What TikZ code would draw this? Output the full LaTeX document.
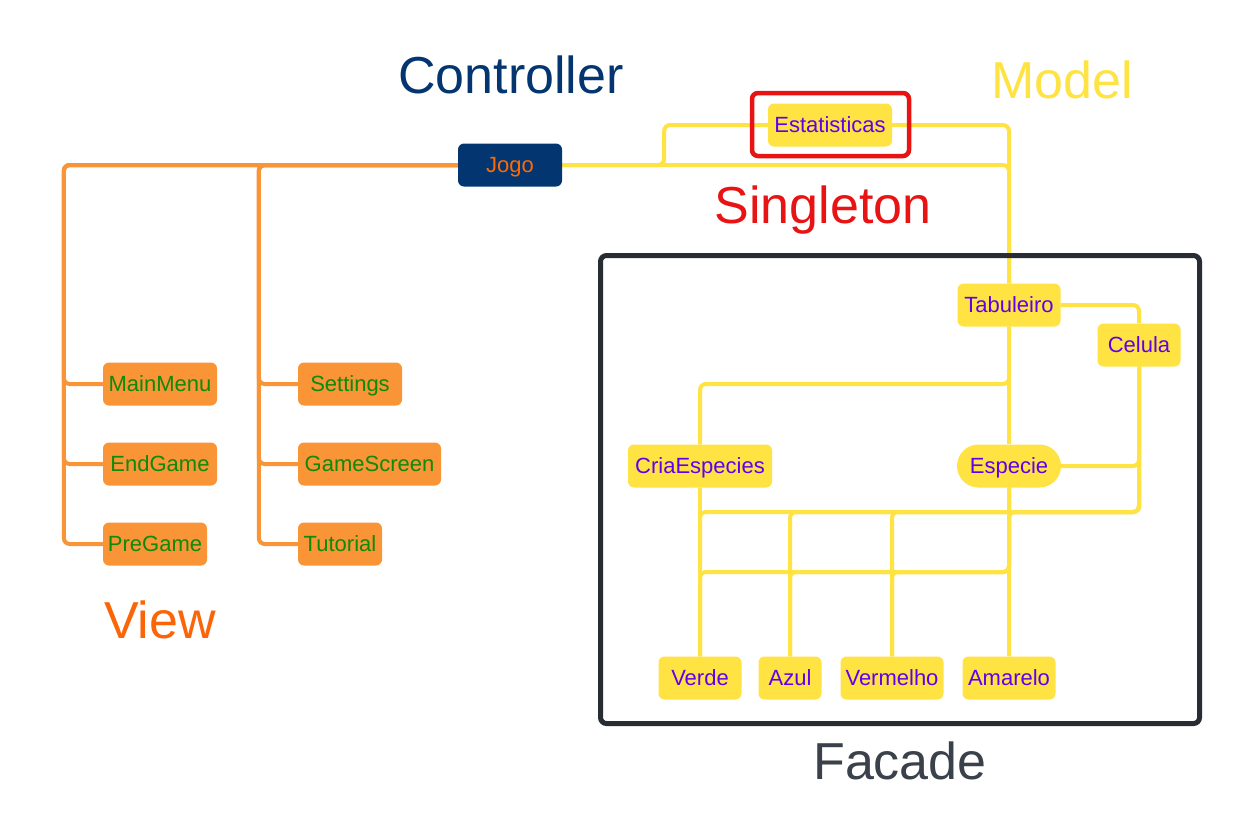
\documentclass[tikz,border=0pt]{standalone}
\usepackage{fontspec}
\setmainfont{Liberation Sans}
\usetikzlibrary{backgrounds}
\definecolor{orng}{HTML}{F99536}
\definecolor{grn}{HTML}{0E8A06}
\definecolor{navy}{HTML}{033670}
\definecolor{jogotxt}{HTML}{FF6A00}
\definecolor{ylw}{HTML}{FFE342}
\definecolor{prp}{HTML}{6000EE}
\definecolor{sred}{HTML}{E81313}
\definecolor{viewc}{HTML}{FB6509}
\definecolor{facc}{HTML}{3A414A}
\definecolor{facb}{HTML}{282C33}
\begin{document}
\begin{tikzpicture}[x=1pt,y=-1pt,
  box/.style={rounded corners=6pt, minimum height=43pt, inner sep=0pt, text height=20pt, text depth=4.2pt, font=\fontsize{22}{24}\selectfont},
  vbox/.style={box, fill=orng, text=grn},
  mbox/.style={box, fill=ylw, text=prp},
  title/.style={font=\fontsize{52}{60}\selectfont, inner sep=0pt, anchor=base},
  yl/.style={draw=ylw, line width=4pt, rounded corners=6pt},
  ol/.style={draw=orng, line width=4pt, rounded corners=6pt}]
\useasboundingbox (0,0) rectangle (1240,839);

% Controller
\node[box, fill=navy, text=jogotxt, minimum width=104pt] (jogo) at (510,165) {Jogo};
% Model
\node[mbox, minimum width=124pt] (est) at (830,125) {Estatisticas};
\node[mbox, minimum width=103pt] (tab) at (1009,305) {Tabuleiro};
\node[mbox, minimum width=83pt] (cel) at (1139,345) {Celula};
\node[mbox, minimum width=144pt] (cria) at (700,466) {CriaEspecies};
\node[mbox, minimum width=104pt, rounded corners=21.5pt] (esp) at (1009,466) {Especie};
\node[mbox, minimum width=83pt] (verde) at (700,678) {Verde};
\node[mbox, minimum width=63pt] (azul) at (790,678) {Azul};
\node[mbox, minimum width=103pt] (verm) at (892,678) {Vermelho};
\node[mbox, minimum width=93pt] (amar) at (1009,678) {Amarelo};
% View
\node[vbox, minimum width=114pt] (main) at (160,384) {MainMenu};
\node[vbox, minimum width=114pt] (end) at (160,464) {EndGame};
\node[vbox, minimum width=104pt] (pre) at (155,544) {PreGame};
\node[vbox, minimum width=104pt] (set) at (350,384) {Settings};
\node[vbox, minimum width=143pt] (gs) at (369.5,464) {GameScreen};
\node[vbox, minimum width=84pt] (tut) at (340,544) {Tutorial};

% titles
\node[title, text=navy] (ctrl) at (511,93) {Controller};
\node[title, text=ylw] (model) at (1062,98) {Model};
\node[title, text=sred] (single) at (823,223) {Singleton};
\node[title, text=viewc] (view) at (160,638) {View};
\node[title, text=facc] (fac) at (900,779) {Facade};

% frames
\node[draw=sred, line width=4.5pt, rounded corners=6pt, minimum width=157pt, minimum height=63pt, inner sep=0pt] (sgbox) at (830.5,124.5) {};
\node[draw=facb, line width=5pt, rounded corners=6pt, minimum width=599pt, minimum height=468pt, inner sep=0pt] (facbox) at (900,489.5) {};

\begin{scope}[on background layer]
\fill[white] (0,0) rectangle (1240,839);
% orange connectors
\draw[ol] (jogo.west) -| ([xshift=-39pt]main.west) -- (main.west);
\draw[ol] (jogo.west) -| ([xshift=-39pt]end.west) -- (end.west);
\draw[ol] (jogo.west) -| ([xshift=-39pt]pre.west) -- (pre.west);
\draw[ol] (jogo.west) -| ([xshift=-39pt]set.west) -- (set.west);
\draw[ol] (jogo.west) -| ([xshift=-39pt]gs.west) -- (gs.west);
\draw[ol] (jogo.west) -| ([xshift=-39pt]tut.west) -- (tut.west);
% yellow connectors
\draw[yl] (jogo.east) -- ++(102,0) |- (est.west);
\draw[yl] (jogo.east) -| (tab.north);
\draw[yl] (est.east) -| (tab.north);
\draw[yl] (tab.east) -| (cel.north);
\draw[yl] (tab.south) -- (tab.south |- 0,384) -| (cria.north);
\draw[yl] (tab.south) -- (esp.north);
\draw[yl] (cel.south) |- (esp.east);
\draw[yl] (cel.south) |- (verde.north |- 0,512) -- (verde.north);
\draw[yl] (cel.south) |- (azul.north |- 0,512) -- (azul.north);
\draw[yl] (cel.south) |- (verm.north |- 0,512) -- (verm.north);
\draw[yl] (cel.south) |- (amar.north |- 0,512) -- (amar.north);
\draw[yl] (esp.south) |- (verde.north |- 0,572) -- (verde.north);
\draw[yl] (esp.south) |- (azul.north |- 0,572) -- (azul.north);
\draw[yl] (esp.south) |- (verm.north |- 0,572) -- (verm.north);
\draw[yl] (esp.south) -- (amar.north);
\draw[yl] (cria.south) -- (verde.north);
\end{scope}
\end{tikzpicture}
\end{document}
